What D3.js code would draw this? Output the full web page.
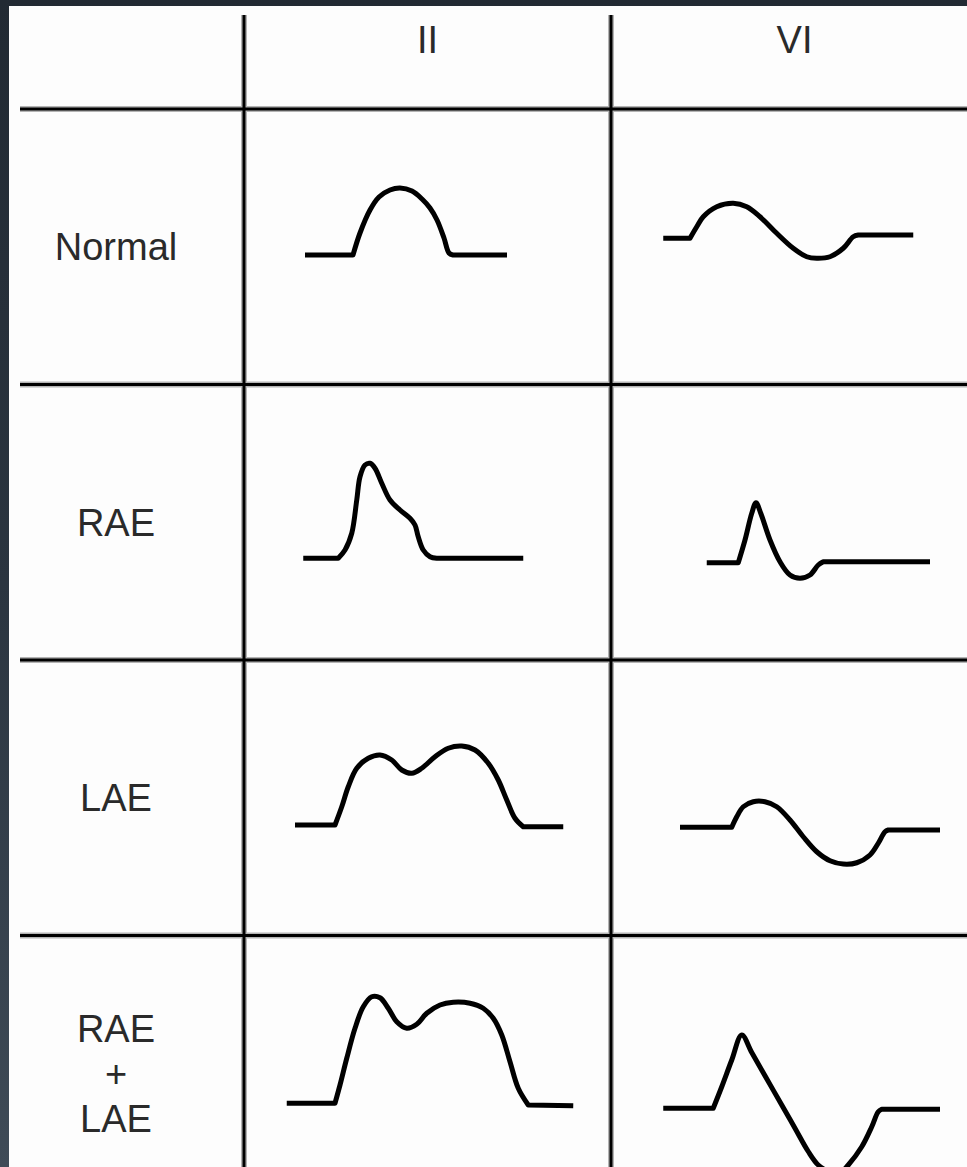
<!DOCTYPE html>
<html>
<head>
<meta charset="utf-8">
<script src="https://cdn.jsdelivr.net/npm/d3@7"></script>
<style>
  html, body { margin: 0; padding: 0; }
  body { width: 967px; height: 1167px; overflow: hidden;
         background: linear-gradient(to bottom, #222a33 0%, #2b3540 50%, #3f4b57 100%); }
  svg { position: absolute; left: 0; top: 0; }
</style>
</head>
<body>
<svg id="chart" width="967" height="1167"></svg>
<script>
// ---- data ----
const leads = ["II", "VI"];
const conditions = ["Normal", "RAE", "LAE", "RAE + LAE"];
const conditionLines = [["Normal"], ["RAE"], ["LAE"], ["RAE", "+", "LAE"]];

// P-wave traces: [time from cell start (ms), amplitude relative to row centre (mV)]
const normal_II = [[48.8,-0.033],[87.2,-0.033],[92.8,0.055],[100.8,0.147],[108,0.199],[116.8,0.227],[124.8,0.235],[134.4,0.223],[142.4,0.191],[148.8,0.155],[154.4,0.107],[160,0.035],[164,-0.025],[167.2,-0.033],[210.4,-0.033]];
const normal_VI = [[41.8,0.034],[63.2,0.034],[68.6,0.080],[73.8,0.120],[84.6,0.160],[97.8,0.174],[108.6,0.160],[119.2,0.120],[132.6,0.054],[145.8,-0.006],[156.6,-0.040],[164.6,-0.046],[175.2,-0.040],[185.8,-0.006],[193.8,0.040],[197.8,0.047],[241.8,0.047]];
const rae_II = [[47.4,-0.144],[75.4,-0.144],[80.8,-0.111],[86.2,-0.044],[90.2,0.089],[92.8,0.182],[96.8,0.229],[100.8,0.236],[104.8,0.216],[110.2,0.156],[116.8,0.089],[124.8,0.049],[132.8,0.016],[136.8,-0.011],[139.4,-0.058],[143.4,-0.111],[148.8,-0.138],[154.2,-0.144],[223.4,-0.144]];
const rae_VI = [[76.6,-0.162],[101.8,-0.162],[107.2,-0.071],[112.6,0.036],[116,0.078],[119.8,0.036],[127.2,-0.071],[135.2,-0.158],[143.2,-0.211],[151.2,-0.224],[159.2,-0.211],[165.8,-0.171],[169.8,-0.158],[255.2,-0.158]];
const lae_II = [[40.8,-0.109],[72.8,-0.109],[78.2,-0.036],[83.4,0.044],[90.2,0.118],[99.4,0.158],[108.8,0.171],[118.2,0.151],[126.2,0.111],[134.2,0.098],[142.2,0.118],[152.8,0.164],[163.4,0.198],[174.2,0.207],[184.8,0.191],[195.4,0.138],[203.4,0.071],[210.2,-0.009],[216.8,-0.082],[223.4,-0.116],[255.4,-0.116]];
const lae_VI = [[55.2,-0.118],[96.6,-0.118],[100.6,-0.076],[105.8,-0.036],[113.8,-0.016],[123.2,-0.016],[132.6,-0.036],[143.2,-0.089],[153.8,-0.156],[164.6,-0.216],[175.2,-0.252],[185.8,-0.265],[196.6,-0.260],[207.2,-0.229],[213.8,-0.182],[219.2,-0.136],[221.8,-0.129],[263.2,-0.129]];
const raeLae_II = [[34.2,-0.120],[72.8,-0.120],[76.8,-0.047],[82.2,0.060],[88.8,0.180],[95.4,0.266],[102.2,0.306],[108.8,0.302],[115.4,0.260],[122.2,0.206],[130.2,0.180],[138.2,0.196],[146.2,0.240],[156.8,0.273],[167.4,0.284],[180.8,0.280],[191.4,0.260],[199.4,0.220],[206.2,0.153],[212.8,0.046],[219.4,-0.060],[227.4,-0.127],[263.4,-0.130]];
const raeLae_VI = [[41.8,-0.140],[81.8,-0.140],[88.6,-0.054],[96.6,0.053],[104.6,0.153],[112.6,0.083],[123.2,-0.010],[136.6,-0.127],[147.2,-0.220],[157.8,-0.313],[165.8,-0.367],[175.2,-0.395],[183.2,-0.399],[189.8,-0.367],[200.6,-0.294],[208.6,-0.214],[213.8,-0.154],[216.6,-0.144],[263.2,-0.144]];

const traces = [
  { condition: "Normal",    lead: "II", values: normal_II },
  { condition: "Normal",    lead: "VI", values: normal_VI },
  { condition: "RAE",       lead: "II", values: rae_II },
  { condition: "RAE",       lead: "VI", values: rae_VI },
  { condition: "LAE",       lead: "II", values: lae_II },
  { condition: "LAE",       lead: "VI", values: lae_VI },
  { condition: "RAE + LAE", lead: "II", values: raeLae_II },
  { condition: "RAE + LAE", lead: "VI", values: raeLae_VI }
];

// ---- layout ----
const W = 967, H = 1167;
const svg = d3.select("#chart");

// white panel
svg.append("rect").attr("x", 9).attr("y", 6).attr("width", W - 9).attr("height", H - 6).attr("fill", "#fdfdfd");

const xBand = d3.scaleBand().domain(leads).range([244, 978]).paddingInner(0).paddingOuter(0);
const rowBand = d3.scaleBand().domain(conditions).range([109, 1211]).paddingInner(0).paddingOuter(0);
const tScale = d3.scaleLinear().domain([0, 100]).range([0, 125]);   // 1.25 px per ms
const vScale = d3.scaleLinear().domain([0, 1]).range([0, -250]);    // 250 px per mV
const labelX = 116;

const grid = svg.append("g");
function gridLine(x1, y1, x2, y2) {
  grid.append("line").attr("x1", x1).attr("y1", y1).attr("x2", x2).attr("y2", y2)
    .attr("stroke", "#b4b4b4").attr("stroke-width", 6);
}
function gridLineCore(x1, y1, x2, y2) {
  grid.append("line").attr("x1", x1).attr("y1", y1).attr("x2", x2).attr("y2", y2)
    .attr("stroke", "#000").attr("stroke-width", 3);
}
const hLines = [rowBand.range()[0]].concat(conditions.slice(0, 3).map(c => rowBand(c) + rowBand.step()));
const vLines = leads.map(l => xBand(l));
[gridLine, gridLineCore].forEach(fn => {
  hLines.forEach(y => fn(20, y, W, y));
  vLines.forEach(x => fn(x, 15, x, H));
});

const fontFamily = "Liberation Sans, Arial, sans-serif";
const fontSize = 38;

// headers
svg.append("g").selectAll("text").data(leads).join("text")
  .attr("x", d => xBand(d) + xBand.bandwidth() / 2)
  .attr("y", 53)
  .attr("text-anchor", "middle")
  .attr("font-family", fontFamily)
  .attr("font-size", fontSize)
  .attr("fill", "#2a2a2a")
  .text(d => d);

// row labels
const lineGap = 45;
conditions.forEach((c, i) => {
  const lines = conditionLines[i];
  const cy = rowBand(c) + rowBand.bandwidth() / 2;
  const g = svg.append("g");
  lines.forEach((s, j) => {
    g.append("text")
      .attr("x", labelX)
      .attr("y", cy + (j - (lines.length - 1) / 2) * lineGap)
      .attr("dy", "0.36em")
      .attr("text-anchor", "middle")
      .attr("font-family", fontFamily)
      .attr("font-size", fontSize)
      .attr("fill", "#2a2a2a")
      .text(s);
  });
});

// traces: flat isoelectric lead-in/out drawn straight, the wave itself smoothed
const smooth = d3.line().curve(d3.curveCatmullRom.alpha(0.5));
function tracePath(d) {
  const x0 = xBand(d.lead);
  const y0 = rowBand(d.condition) + rowBand.bandwidth() / 2;
  const pts = d.values.map(([t, v]) => [x0 + tScale(t), y0 + vScale(v)]);
  const first = pts[0], last = pts[pts.length - 1];
  const mid = smooth(pts.slice(1, pts.length - 1));
  return `M${first[0]},${first[1]}L` + mid.slice(1) + `L${last[0]},${last[1]}`;
}
svg.append("g").selectAll("path").data(traces).join("path")
  .attr("d", tracePath)
  .attr("fill", "none")
  .attr("stroke", "#000")
  .attr("stroke-width", 5)
  .attr("stroke-linejoin", "round");
</script>
</body>
</html>
